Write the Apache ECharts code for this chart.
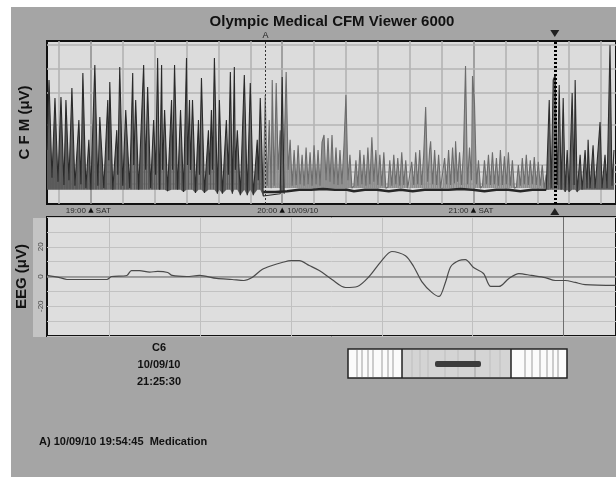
<!DOCTYPE html>
<html>
<head>
<meta charset="UTF-8">
<title>Olympic Medical CFM Viewer 6000</title>
<script src="https://cdn.jsdelivr.net/npm/echarts@6.0.0/dist/echarts.min.js"></script>
<style>
    body { margin: 0; padding: 0; background: #fff; }
    #bg { position: absolute; left: 11px; top: 7px; width: 605px; height: 470px; background: #a5a5a5; }
    #echart { position: absolute; left: 0; top: 0; width: 616px; height: 477px; }
</style>
</head>
<body>
<div id="bg"></div>
<div id="echart"></div>
<script>
    const FONT = '"Liberation Sans", Arial, sans-serif';

    // CFM trace, [minutes after 18:00, µV]
    const cfmDark = [[46.25,6.8],[46.88,36.5],[47.81,3.3],[48.75,21.6],[49.69,2.8],[50.63,22.3],[51.56,2.4],[52.19,20.4],
        [53.13,3.0],[54.06,28.9],[55.0,2.3],[56.25,11.4],[56.88,2.5],[57.5,44.7],[58.44,2.0],[59.38,8.1],[60.0,1.8],
        [61.25,56.4],[62.19,2.3],[62.81,12.5],[64.06,2.0],[65.31,20.4],[65.63,5.5],[65.94,34.4],[66.88,1.8],[68.13,9.3],
        [68.44,3.7],[69.06,53.1],[70.0,2.3],[70.94,15.3],[72.19,2.0],[73.13,44.7],[73.44,4.9],[74.06,20.4],[75.0,1.8],
        [76.56,56.4],[77.19,4.3],[77.81,29.8],[78.75,2.0],[79.69,11.4],[80.31,3.7],[80.94,69],[81.56,1.8],[82.19,56.4],
        [82.5,4.3],[83.13,15.3],[84.06,1.6],[85.31,20.4],[85.63,4.3],[86.25,56.4],[87.19,1.8],[88.13,15.3],[89.06,1.5],
        [90.0,69],[90.31,4.9],[90.94,20.4],[91.25,4.3],[91.88,20.4],[92.81,1.4],[93.75,11.4],[94.06,3.7],[94.69,38.6],
        [95.63,1.4],[96.88,9.3],[97.19,3.7],[97.81,15.3],[98.13,4.3],[98.75,69],[99.69,1.3],[100.31,20.4],[101.25,1.3],
        [102.5,11.4],[103.13,3.7],[103.75,45.9],[104.38,1.3],[105.0,53.1],[105.31,4.3],[105.94,9.3],[106.88,1.1],
        [108.13,42.2],[109.06,1.1],[110.0,33.4],[110.94,1.1],[112.19,8.1],[112.5,3.0],[113.13,21.6],[114.06,1.0],
        [119.38,1.3],[120.0,39.7],[120.63,1.3]];
    const cfmBand = [[114.06,2.0],[114.69,23.6],[115.31,2.3],[115.94,11.4],[116.56,2.0],[116.88,36.5],[117.5,2.3],
        [118.13,33.4],[118.75,4.3],[119.38,9.3],[120.0,2.3],[120.63,6.8],[121.25,45.9],[121.88,4.3],[122.5,8.1],
        [123.13,2.3],[123.75,6.8],[124.38,2.4],[125.0,7.4],[125.63,2.5],[126.25,6.2],[126.88,2.3],[127.5,7.1],
        [128.13,2.5],[128.75,6.5],[129.38,2.3],[130.0,7.4],[130.63,2.5],[131.25,6.8],[131.88,2.3],[132.5,7.8],
        [133.13,8.7],[133.75,3.0],[134.38,8.3],[135.0,2.8],[135.63,8.7],[136.25,2.5],[136.88,7.1],[137.5,2.4],
        [138.13,6.8],[138.75,2.5],[139.38,7.4],[140.0,23.6],[140.63,3.0],[141.25,6.2],[141.88,2.0],[142.5,2.3],
        [143.13,5.5],[143.75,2.3],[144.38,6.8],[145.0,2.5],[145.63,6.2],[146.25,2.3],[146.88,7.1],[147.5,2.5],
        [148.13,8.4],[148.75,2.8],[149.38,6.8],[150.0,2.4],[150.63,6.2],[151.25,2.3],[151.88,6.5],[152.5,2.0],
        [153.13,2.1],[153.75,5.5],[154.38,2.3],[155.0,6.2],[155.63,2.5],[156.25,5.8],[156.88,2.3],[157.5,6.5],
        [158.13,2.4],[158.75,5.5],[159.38,2.0],[160.0,2.1],[160.63,5.3],[161.25,2.4],[161.88,6.5],[162.5,2.5],
        [163.13,6.8],[163.75,2.4],[164.38,6.2],[165.0,16.7],[165.63,2.8],[166.25,6.8],[166.56,7.9],[167.19,2.5],
        [167.81,6.8],[168.44,2.4],[169.06,6.2],[169.69,2.0],[170.31,2.1],[170.94,5.8],[171.56,2.5],[172.19,6.8],
        [172.81,2.4],[173.44,7.1],[174.06,2.6],[174.38,7.9],[175.0,2.8],[175.63,6.5],[176.25,2.4],[176.88,6.8],
        [177.5,54.7],[178.13,2.5],[178.75,7.1],[179.38,3.0],[179.69,40.9],[180.31,18.7],[180.94,2.5],[181.56,5.5],
        [182.19,2.0],[182.81,2.3],[183.44,5.5],[184.06,2.5],[184.69,6.2],[185.31,2.4],[185.94,6.5],[186.56,2.5],
        [187.19,5.8],[187.81,2.3],[188.44,6.8],[189.06,2.4],[189.69,6.0],[190.31,2.5],[190.94,6.5],[191.56,2.3],
        [192.19,5.5],[192.81,2.0],[193.44,2.1],[194.06,4.9],[194.69,2.3],[195.31,5.8],[195.94,2.5],[196.56,6.2],
        [197.19,2.4],[197.81,5.5],[198.44,2.5],[199.06,5.9],[199.69,2.4],[200.31,5.3],[200.94,2.3],[201.56,4.9],
        [202.19,2.0],[202.81,3.7],[203.44,1.8]];
    const cfmRight = [[202.81,1.8],[203.75,20.4],[204.38,2.0],[205.0,36.5],[205.63,42.2],[206.25,2.4],[206.88,31.5],
        [207.5,1.8],[208.13,21.6],[208.75,1.5],[209.38,6.8],[210.0,1.5],[210.94,25.0],[211.56,2.4],[211.88,36.5],
        [212.5,1.5],[213.44,6.2],[214.06,1.8],[215.0,6.8],[215.63,2.0],[215.94,8.1],[216.56,2.0],[217.5,7.4],
        [218.13,2.0],[219.06,6.8],[219.69,10.8],[220.31,2.0],[221.25,6.2],[221.88,2.0],[222.81,100],[223.44,2.3],
        [224.06,6.8]];
    const cfmBase = [[114.06,1.5],[117.81,1.5],[121.56,1.6],[125.31,1.8],[129.06,1.8],[132.81,1.9],[136.56,1.8],
        [140.31,1.8],[142.5,1.6],[145.94,1.8],[149.69,1.8],[153.44,1.6],[157.19,1.8],[160.94,1.6],[164.69,1.8],
        [168.44,1.8],[172.19,1.8],[175.94,1.9],[179.69,1.8],[183.44,1.6],[187.19,1.8],[190.94,1.8],[194.69,1.6],
        [198.44,1.8],[202.81,1.8]];
    const darkFloor = 1.8;   // µV, bottom of the filled trace
    const bandFloor = 2.0;

    const cfmGridMinutes = [50, 60, 70, 80, 90, 100, 110, 120, 130, 140, 150, 160, 170, 180, 190, 200, 210, 220];
    const cfmHourMinutes = [60, 120, 180];
    const cfmHourLabels = ['19:00', '20:00', '21:00'];
    const cfmHourTags = ['SAT', '10/09/10', 'SAT'];
    const cfmGridLevels = [2.5, 4, 5, 10, 25, 50, 100];
    const eventA = 114.75;   // 19:54:45
    const cursorAt = 205.5;  // 21:25:30

    // EEG at cursor, [s, µV]
    const eeg = [[-0.69,0.7],[-0.55,-0.7],[-0.47,-2],[-0.03,-2],[0.02,0],[0.19,0.7],[0.24,4],[0.33,4],[0.44,3],
        [0.53,3.4],[0.64,2.7],[0.69,0.7],[0.85,0],[0.99,0.7],[1.18,-1.3],[1.35,-2],[1.48,-2.7],[1.57,-0.7],[1.68,4.7],
        [1.79,7.4],[1.90,9.4],[2.00,10.7],[2.09,10.7],[2.20,7.4],[2.31,4],[2.45,-2],[2.60,-7.4],[2.73,-6.7],[2.86,0],
        [2.99,10],[3.11,16.8],[3.26,14],[3.35,6.7],[3.44,-3.4],[3.55,-10.7],[3.63,-13.4],[3.70,-4],[3.76,6.7],
        [3.85,10.7],[3.92,11.4],[4.01,6],[4.12,2],[4.20,-6.7],[4.29,-6.7],[4.40,-1.3],[4.51,2],[4.65,0.7],[4.80,-0.7],
        [4.91,-2.7],[5.02,-2.7],[5.13,-4],[5.24,-5.4],[5.58,-6]];
    const eegGridSeconds = [0, 1, 2, 3, 4, 5];
    const eegLabels = [-20, 0, 20];

    // semi-log CFM scale: linear 0-10, log 10-100
    function cfmScale(v) {
        return v <= 10 ? v : 10 + 10 * Math.log10(v / 10);
    }
    const toCfm = arr => arr.map(p => [p[0], cfmScale(p[1])]);

    // outline of a trace
    function traceLine(name, arr, color, width, extra) {
        return Object.assign({
            name: name, type: 'line', xAxisIndex: 0, yAxisIndex: 0,
            data: toCfm(arr), symbol: 'none', silent: true,
            lineStyle: {color: color, width: width}
        }, extra || {});
    }

    // fill between a trace and its floor, one polygon per segment
    function traceFill(arr, floor, color) {
        const pts = toCfm(arr);
        const f = cfmScale(floor);
        return {
            type: 'custom', xAxisIndex: 0, yAxisIndex: 0, silent: true, clip: true,
            data: pts,
            renderItem: function (params, api) {
                const i = params.dataIndex;
                if (i >= pts.length - 1) {
                    return null;
                }
                const a = pts[i], b = pts[i + 1];
                return {
                    type: 'polygon',
                    shape: {points: [api.coord(a), api.coord(b), api.coord([b[0], Math.min(b[1], f)]), api.coord([a[0], Math.min(a[1], f)])]},
                    style: {fill: color}
                };
            }
        };
    }

    // extra time axis on the CFM grid, only for one part of the hour labels
    function timeLabelAxis(list, align, padding) {
        return {
            gridIndex: 0, type: 'value', min: 46.25, max: 224.69, position: 'bottom',
            axisLine: {show: false}, axisTick: {show: false}, splitLine: {show: false},
            axisLabel: {
                customValues: cfmHourMinutes, margin: 3, align: align, padding: padding,
                fontSize: 8, color: '#2a2a2a', fontFamily: FONT,
                formatter: v => list[cfmHourMinutes.indexOf(v)]
            }
        };
    }

    function buildOption() {
        let cfmGrid = cfmGridMinutes.map(m => ({
            xAxis: m,
            lineStyle: {color: cfmHourMinutes.indexOf(m) >= 0 ? '#8c8c8c' : '#b0b0b0', width: 1.5, type: 'solid'}
        })).concat(cfmGridLevels.map(l => ({
            yAxis: cfmScale(l),
            lineStyle: {color: '#b4b4b4', width: 1.5, type: 'solid'}
        })));
        let eegGrid = eegGridSeconds.map(s => ({
            xAxis: s,
            lineStyle: {color: s === 5 ? '#6e6e6e' : '#c0c0c0', width: 1, type: 'solid'}
        })).concat([{yAxis: 0, lineStyle: {color: '#8a8a8a', width: 1.5, type: 'solid'}}]);

        let markers = {
            markLine: {
                silent: true, symbol: 'none',
                data: [
                    {
                        xAxis: eventA,
                        lineStyle: {type: [2, 2], color: '#333', width: 1},
                        label: {show: true, position: 'end', formatter: 'A', distance: 1, fontSize: 9, color: '#222'}
                    },
                    {
                        xAxis: cursorAt,
                        lineStyle: {type: [2, 2], color: '#000', width: 3},
                        label: {show: false}
                    }
                ]
            }
        };

        let stripes = [357, 362, 368, 373, 382, 388, 393, 525, 532, 540, 547, 553, 558].map(x => ({
            type: 'line', shape: {x1: x, y1: 350, x2: x, y2: 377}, style: {stroke: '#bdbdbd', lineWidth: 1.5}
        }));
        let midStripes = [412, 420, 428, 445, 458, 490, 500].map(x => ({
            type: 'line', shape: {x1: x, y1: 350, x2: x, y2: 377}, style: {stroke: '#c6c6c6', lineWidth: 1.5}
        }));

        return {
            animation: false,
            textStyle: {fontFamily: FONT},
            title: {
                text: 'Olympic Medical CFM Viewer 6000',
                left: 327, top: 9, textAlign: 'center',
                textStyle: {fontSize: 15, fontWeight: 'bold', color: '#111', fontFamily: FONT}
            },
            grid: [
                {left: 47, top: 41, right: -2, height: 163, show: true, backgroundColor: '#dcdcdc', borderColor: '#111', borderWidth: 2},
                {left: 47, top: 217, right: -2, height: 119, show: true, backgroundColor: '#dedede', borderColor: '#111', borderWidth: 2}
            ],
            xAxis: [
                {
                    gridIndex: 0, type: 'value', min: 46.25, max: 224.69, position: 'bottom',
                    axisLine: {show: false}, axisTick: {show: false}, splitLine: {show: false},
                    axisLabel: {
                        customValues: cfmHourMinutes, margin: 3, fontSize: 7, color: '#111',
                        fontFamily: '"DejaVu Sans", sans-serif', formatter: () => '▲'
                    }
                },
                {gridIndex: 1, type: 'value', min: -0.69, max: 5.58, show: false},
                timeLabelAxis(cfmHourLabels, 'right', [0, 5, 0, 0]),
                timeLabelAxis(cfmHourTags, 'left', [0, 0, 0, 5])
            ],
            yAxis: [
                {
                    gridIndex: 0, type: 'value', min: 0, max: 20.53,
                    axisLine: {show: false}, axisTick: {show: false}, axisLabel: {show: false}, splitLine: {show: false},
                    name: 'C F M (μV)', nameLocation: 'middle', nameRotate: 90, nameGap: 15,
                    nameTextStyle: {fontSize: 15, fontWeight: 'bold', color: '#111', fontFamily: FONT}
                },
                {
                    gridIndex: 1, type: 'value', min: -40, max: 40, interval: 10,
                    axisLine: {show: false}, axisTick: {show: false},
                    splitLine: {show: true, lineStyle: {color: '#c2c2c2', width: 1}},
                    axisLabel: {
                        rotate: 90, margin: 2, fontSize: 8, color: '#444',
                        formatter: v => eegLabels.indexOf(v) >= 0 ? String(v) : ''
                    },
                    name: 'EEG (μV)', nameLocation: 'middle', nameRotate: 90, nameGap: 14,
                    nameTextStyle: {fontSize: 15, fontWeight: 'bold', color: '#111', fontFamily: FONT}
                }
            ],
            series: [
                traceFill(cfmBand, bandFloor, '#8e8e8e'),
                traceLine('band', cfmBand, '#6c6c6c', 1.1),
                traceLine('lower margin', cfmBase, '#262626', 2.5, {
                    markLine: {silent: true, symbol: 'none', z: 1, label: {show: false}, data: cfmGrid}
                }),
                traceFill(cfmDark, darkFloor, '#5a5a5a'),
                traceLine('cfm', cfmDark, '#2a2a2a', 1.1, markers),
                traceFill(cfmRight, darkFloor, '#606060'),
                traceLine('cfm right', cfmRight, '#2e2e2e', 1.1),
                {
                    name: 'cursor', type: 'scatter', xAxisIndex: 0, yAxisIndex: 0, clip: false, silent: true, z: 6,
                    symbol: 'triangle', symbolSize: [9, 7], itemStyle: {color: '#000'},
                    data: [{value: [cursorAt, 21.47], symbolRotate: 180}, {value: [cursorAt, -0.95]}]
                },
                {
                    name: 'EEG', type: 'line', xAxisIndex: 1, yAxisIndex: 1,
                    data: eeg, symbol: 'none', smooth: 0.3, silent: true,
                    lineStyle: {color: '#4a4a4a', width: 1.2},
                    markLine: {silent: true, symbol: 'none', z: 1, label: {show: false}, data: eegGrid}
                }
            ],
            graphic: [
                {type: 'rect', z: -1, shape: {x: 33, y: 218, width: 14, height: 119}, style: {fill: '#c4c4c4'}},
                {type: 'text', x: 159, y: 348, style: {text: 'C6', font: 'bold 11px ' + FONT, fill: '#111', align: 'center', verticalAlign: 'middle'}},
                {type: 'text', x: 159, y: 365, style: {text: '10/09/10', font: 'bold 11px ' + FONT, fill: '#111', align: 'center', verticalAlign: 'middle'}},
                {type: 'text', x: 159, y: 382, style: {text: '21:25:30', font: 'bold 11px ' + FONT, fill: '#111', align: 'center', verticalAlign: 'middle'}},
                {type: 'text', x: 39, y: 442, style: {text: 'A) 10/09/10 19:54:45  Medication', font: 'bold 11px ' + FONT, fill: '#111', align: 'left', verticalAlign: 'middle'}},
                {type: 'rect', shape: {x: 348, y: 349, width: 219, height: 29}, style: {fill: '#fbfbfb', stroke: '#222', lineWidth: 1.5}},
                {type: 'rect', shape: {x: 402, y: 350, width: 109, height: 27}, style: {fill: '#d4d4d4'}},
                ...stripes,
                ...midStripes,
                {type: 'line', shape: {x1: 475, y1: 350, x2: 475, y2: 377}, style: {stroke: '#a0a0a0', lineWidth: 1}},
                {type: 'line', shape: {x1: 402, y1: 349, x2: 402, y2: 378}, style: {stroke: '#222', lineWidth: 1.5}},
                {type: 'line', shape: {x1: 511, y1: 349, x2: 511, y2: 378}, style: {stroke: '#222', lineWidth: 1.5}},
                {type: 'rect', shape: {x: 435, y: 361, width: 46, height: 6, r: 2}, style: {fill: '#3c3c3c'}}
            ]
        };
    }

    window.ec = echarts.init(document.getElementById('echart'));
    ec.setOption(buildOption(), true);
</script>
</body>
</html>
